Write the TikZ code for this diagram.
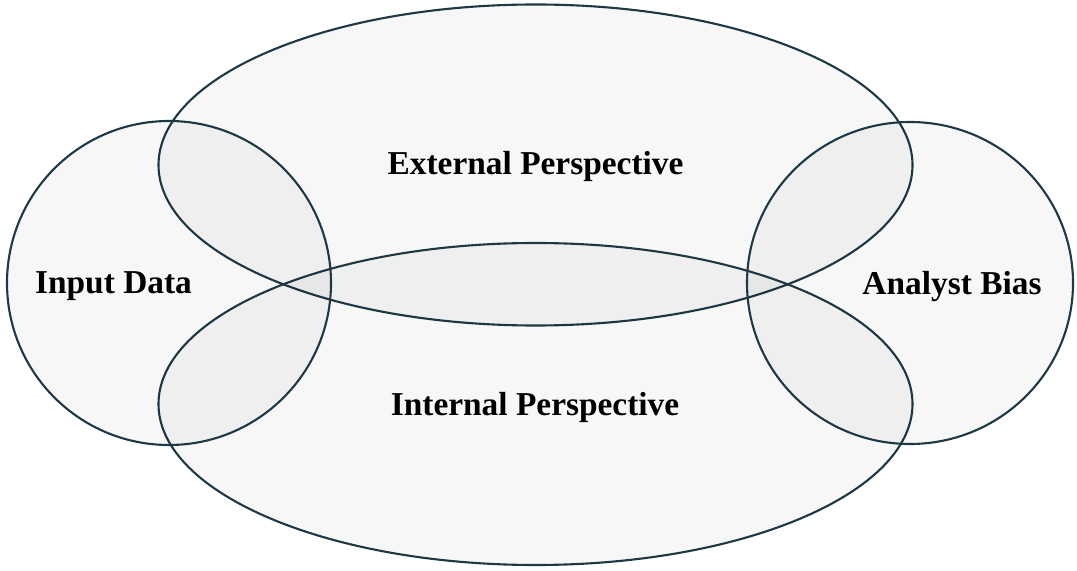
\documentclass[tikz,border=0pt]{standalone}
\usepackage{fontspec}
\setmainfont{Liberation Serif}
\usepackage{tikz}
\usepackage{xcolor}
\usetikzlibrary{positioning,shapes.geometric}

\definecolor{rimline}{RGB}{30,56,70}

\begin{document}
\begin{tikzpicture}[
      blob/.style={ellipse,draw=rimline,line width=1.2pt,fill=black,fill opacity=0.03,draw opacity=1,inner sep=0pt},
      tag/.style={anchor=base,font=\bfseries\fontsize{19}{22}\selectfont,text=black}
    ]
    \useasboundingbox[fill=white] (0,0) rectangle (21.54,11.4);
    % the four fields
    \node[blob,minimum width=15.08cm,minimum height=6.42cm] (ext) at (10.71,8.10) {};
    \node[blob,minimum width=15.08cm,minimum height=6.44cm] (int) at (10.71,3.32) {};
    \node[blob,minimum width=6.48cm,minimum height=6.48cm] (inp) at (3.38,5.74) {};
    \node[blob,minimum width=6.52cm,minimum height=6.44cm] (bias) at (18.20,5.74) {};
    % labels
    \node[tag] (extlab) at (10.71,7.90) {External Perspective};
    \node[tag] (intlab) at (10.70,3.10) {Internal Perspective};
    \node[tag] (inplab) at (2.27,5.52) {Input Data};
    \node[tag] (biaslab) at (19.04,5.50) {Analyst Bias};
  \end{tikzpicture}
\end{document}
